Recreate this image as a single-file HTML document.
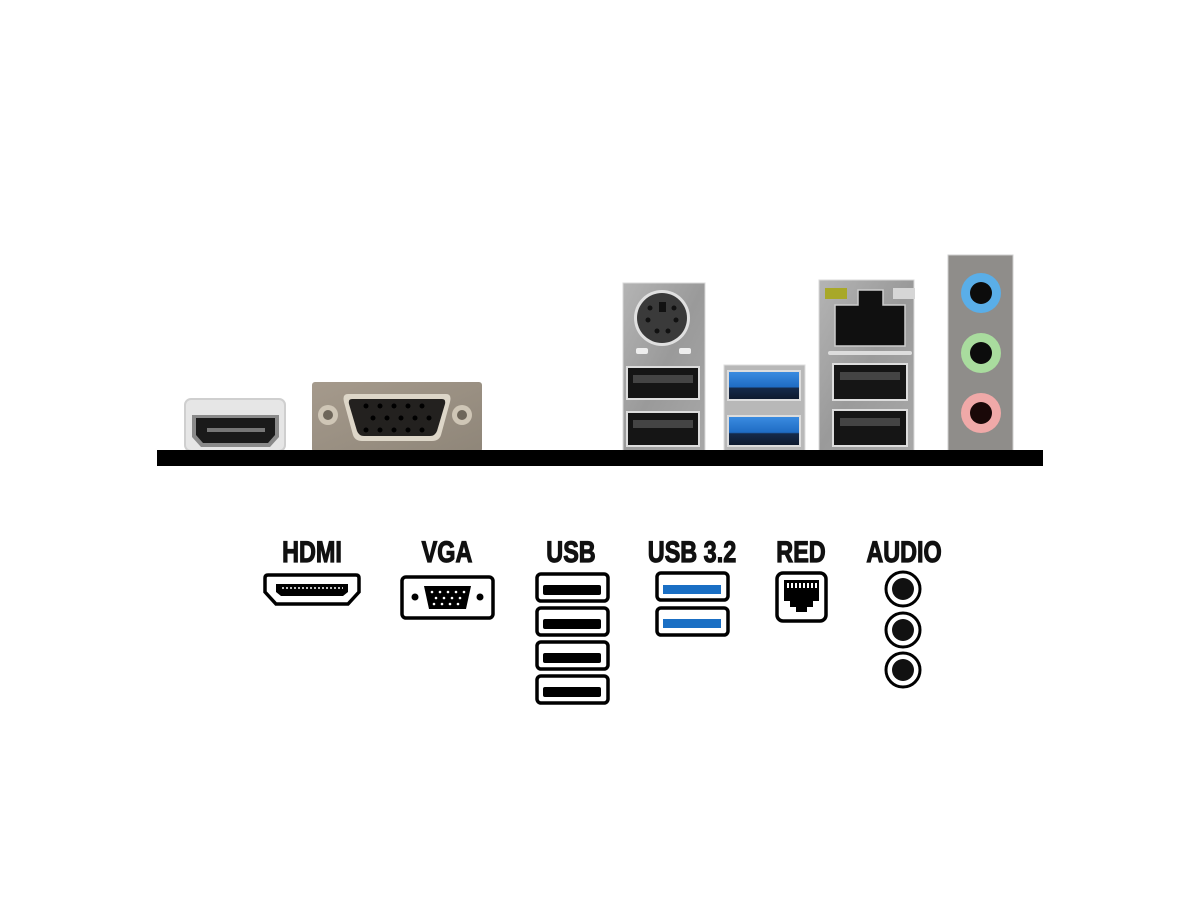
<!DOCTYPE html>
<html><head><meta charset="utf-8"><style>
html,body{margin:0;padding:0;background:#fff;width:1200px;height:900px;overflow:hidden}
text{font-family:"Liberation Sans Narrow","Liberation Sans",sans-serif;font-weight:bold;font-size:30px;fill:#111;stroke:#111;stroke-width:1.2;text-anchor:middle}
</style></head><body>
<svg width="1200" height="900" viewBox="0 0 1200 900" xmlns="http://www.w3.org/2000/svg">
<defs>
<linearGradient id="metal" x1="0" y1="0" x2="1" y2="1"><stop offset="0" stop-color="#b4b4b4"/><stop offset="0.5" stop-color="#9a9a9a"/><stop offset="1" stop-color="#a8a8a8"/></linearGradient>
<linearGradient id="vga" x1="0" y1="0" x2="1" y2="1"><stop offset="0" stop-color="#a59a8c"/><stop offset="1" stop-color="#8f8679"/></linearGradient>
<linearGradient id="blue" x1="0" y1="0" x2="0" y2="1"><stop offset="0" stop-color="#3a8be0"/><stop offset="0.55" stop-color="#1f6cc4"/><stop offset="0.6" stop-color="#152a4a"/><stop offset="1" stop-color="#0e1a2e"/></linearGradient>
</defs>

<!-- HDMI port -->
<rect x="185" y="399" width="100" height="52" rx="6" fill="#e6e6e6" stroke="#cfcfcf" stroke-width="2"/>
<path d="M192 415 H279 V437 L270 447 H201 L192 437 Z" fill="#8a8a8a"/>
<path d="M196 418 H275 V435 L268 443 H203 L196 435 Z" fill="#1a1a1a"/>
<rect x="207" y="428" width="58" height="4" fill="#777"/>

<!-- VGA port -->
<rect x="312" y="382" width="170" height="70" rx="3" fill="url(#vga)"/>
<circle cx="328" cy="415" r="10" fill="#cfc6b6"/><circle cx="328" cy="415" r="5" fill="#6e665a"/>
<circle cx="462" cy="415" r="10" fill="#cfc6b6"/><circle cx="462" cy="415" r="5" fill="#6e665a"/>
<path d="M348 394 H446 Q452 394 450 402 L441 435 Q439 441 432 441 H362 Q355 441 353 435 L344 402 Q342 394 348 394 Z" fill="#ddd6c8"/>
<path d="M352 399 H442 Q446 399 445 404 L437 431 Q435 436 430 436 H364 Q359 436 357 431 L349 404 Q348 399 352 399 Z" fill="#23211f"/>
<g fill="#000"><circle cx="366" cy="406" r="2.5"/><circle cx="380" cy="406" r="2.5"/><circle cx="394" cy="406" r="2.5"/><circle cx="408" cy="406" r="2.5"/><circle cx="422" cy="406" r="2.5"/>
<circle cx="373" cy="418" r="2.5"/><circle cx="387" cy="418" r="2.5"/><circle cx="401" cy="418" r="2.5"/><circle cx="415" cy="418" r="2.5"/><circle cx="429" cy="418" r="2.5"/>
<circle cx="366" cy="430" r="2.5"/><circle cx="380" cy="430" r="2.5"/><circle cx="394" cy="430" r="2.5"/><circle cx="408" cy="430" r="2.5"/><circle cx="422" cy="430" r="2.5"/></g>

<!-- PS2 + USB stack -->
<rect x="623" y="283" width="82" height="168" fill="url(#metal)" stroke="#d8d8d8"/>
<circle cx="662" cy="318" r="28" fill="#e0e0e0"/>
<circle cx="662" cy="318" r="25" fill="#3a3a3a"/>
<rect x="659" y="302" width="7" height="10" fill="#111"/>
<g fill="#111"><circle cx="650" cy="308" r="2.5"/><circle cx="674" cy="308" r="2.5"/><circle cx="648" cy="320" r="2.5"/><circle cx="676" cy="320" r="2.5"/><circle cx="657" cy="331" r="2.5"/><circle cx="668" cy="331" r="2.5"/></g>
<rect x="636" y="348" width="12" height="6" rx="2" fill="#eee"/><rect x="679" y="348" width="12" height="6" rx="2" fill="#eee"/>
<rect x="626" y="366" width="74" height="34" fill="#ddd"/>
<rect x="628" y="368" width="70" height="30" fill="#151515"/><rect x="633" y="375" width="60" height="8" fill="#444"/>
<rect x="626" y="411" width="74" height="36" fill="#ddd"/>
<rect x="628" y="413" width="70" height="32" fill="#151515"/><rect x="633" y="420" width="60" height="8" fill="#444"/>

<!-- USB 3.2 stack -->
<rect x="724" y="365" width="81" height="86" fill="#b8b8b8" stroke="#ddd"/>
<rect x="727" y="370" width="74" height="31" fill="#ddd"/>
<rect x="729" y="372" width="70" height="27" fill="url(#blue)"/>
<rect x="727" y="415" width="74" height="32" fill="#ddd"/>
<rect x="729" y="417" width="70" height="28" fill="url(#blue)"/>

<!-- LAN + USB stack -->
<rect x="819" y="280" width="95" height="171" fill="url(#metal)" stroke="#d8d8d8"/>
<rect x="825" y="288" width="22" height="11" fill="#a8a828"/>
<rect x="893" y="288" width="22" height="11" fill="#d6d6d6"/>
<path d="M835 305 H858 V290 H883 V305 H905 V346 H835 Z" fill="#101010" stroke="#ccc" stroke-width="1.5"/>
<rect x="828" y="351" width="84" height="4" rx="2" fill="#ddd"/>
<rect x="832" y="363" width="76" height="38" fill="#ddd"/>
<rect x="834" y="365" width="72" height="34" fill="#151515"/><rect x="840" y="372" width="60" height="8" fill="#444"/>
<rect x="832" y="409" width="76" height="38" fill="#ddd"/>
<rect x="834" y="411" width="72" height="34" fill="#151515"/><rect x="840" y="418" width="60" height="8" fill="#444"/>

<!-- Audio -->
<rect x="948" y="255" width="65" height="196" fill="#8f8d8a" stroke="#cfcfcf"/>
<circle cx="981" cy="293" r="20" fill="#5aaee8"/><circle cx="981" cy="293" r="11" fill="#0c0c0c"/>
<circle cx="981" cy="353" r="20" fill="#a9dc9e"/><circle cx="981" cy="353" r="11" fill="#0c0c0c"/>
<circle cx="981" cy="413" r="20" fill="#f0a9a8"/><circle cx="981" cy="413" r="11" fill="#1a0808"/>

<!-- bar -->
<rect x="157" y="450" width="886" height="16" fill="#000"/>

<!-- Labels -->
<g transform="translate(312 562) scale(0.78 1)"><text x="0" y="0">HDMI</text></g>
<g transform="translate(447 562) scale(0.78 1)"><text x="0" y="0">VGA</text></g>
<g transform="translate(571 562) scale(0.78 1)"><text x="0" y="0">USB</text></g>
<g transform="translate(692 562) scale(0.78 1)"><text x="0" y="0">USB 3.2</text></g>
<g transform="translate(801 562) scale(0.78 1)"><text x="0" y="0">RED</text></g>
<g transform="translate(904 562) scale(0.78 1)"><text x="0" y="0">AUDIO</text></g>

<!-- HDMI icon -->
<path d="M268 575 H356 Q359 575 359 578 V592 L348 604 H276 L265 592 V578 Q265 575 268 575 Z" fill="#fff" stroke="#000" stroke-width="3.5"/>
<path d="M276 584 H348 V592 L343 596 H281 L276 592 Z" fill="#000"/>
<line x1="282" y1="588" x2="343" y2="588" stroke="#fff" stroke-width="1.5" stroke-dasharray="2 2"/>

<!-- VGA icon -->
<rect x="402" y="577" width="91" height="41" rx="4" fill="#fff" stroke="#000" stroke-width="3.5"/>
<circle cx="415" cy="597" r="3.5" fill="#000"/><circle cx="480" cy="597" r="3.5" fill="#000"/>
<path d="M424 586 H471 L466 609 H429 Z" fill="#000"/>
<g fill="#fff"><circle cx="432" cy="592" r="1.3"/><circle cx="440" cy="592" r="1.3"/><circle cx="448" cy="592" r="1.3"/><circle cx="456" cy="592" r="1.3"/><circle cx="464" cy="592" r="1.3"/>
<circle cx="436" cy="598" r="1.3"/><circle cx="444" cy="598" r="1.3"/><circle cx="452" cy="598" r="1.3"/><circle cx="460" cy="598" r="1.3"/>
<circle cx="434" cy="604" r="1.3"/><circle cx="442" cy="604" r="1.3"/><circle cx="450" cy="604" r="1.3"/><circle cx="458" cy="604" r="1.3"/></g>

<!-- USB icons -->
<g fill="#fff" stroke="#000" stroke-width="3.5">
<rect x="537" y="574" width="71" height="27" rx="4"/>
<rect x="537" y="608" width="71" height="27" rx="4"/>
<rect x="537" y="642" width="71" height="27" rx="4"/>
<rect x="537" y="676" width="71" height="27" rx="4"/>
</g>
<g fill="#000">
<rect x="543" y="585" width="58" height="10" rx="2"/>
<rect x="543" y="619" width="58" height="10" rx="2"/>
<rect x="543" y="653" width="58" height="10" rx="2"/>
<rect x="543" y="687" width="58" height="10" rx="2"/>
</g>

<!-- USB 3.2 icons -->
<rect x="657" y="573" width="71" height="27" rx="4" fill="#fff" stroke="#000" stroke-width="3.5"/>
<rect x="663" y="585" width="58" height="9" fill="#1a6fc4"/>
<rect x="657" y="608" width="71" height="27" rx="4" fill="#fff" stroke="#000" stroke-width="3.5"/>
<rect x="663" y="619" width="58" height="9" fill="#1a6fc4"/>

<!-- RED icon -->
<rect x="777" y="573" width="49" height="48" rx="6" fill="#fff" stroke="#000" stroke-width="3.5"/>
<path d="M784 580 H819 V601 H813 V607 H807 V612 H796 V607 H790 V601 H784 Z" fill="#000"/>
<g fill="#fff"><rect x="787" y="583" width="2" height="5"/><rect x="791" y="583" width="2" height="5"/><rect x="795" y="583" width="2" height="5"/><rect x="799" y="583" width="2" height="5"/><rect x="803" y="583" width="2" height="5"/><rect x="807" y="583" width="2" height="5"/><rect x="811" y="583" width="2" height="5"/><rect x="815" y="583" width="2" height="5"/></g>

<!-- Audio icons -->
<g fill="#fff" stroke="#000" stroke-width="3">
<circle cx="903" cy="589" r="17"/><circle cx="903" cy="630" r="17"/><circle cx="903" cy="670" r="17"/>
</g>
<g fill="#111"><circle cx="903" cy="589" r="11"/><circle cx="903" cy="630" r="11"/><circle cx="903" cy="670" r="11"/></g>
</svg>
</body></html>
